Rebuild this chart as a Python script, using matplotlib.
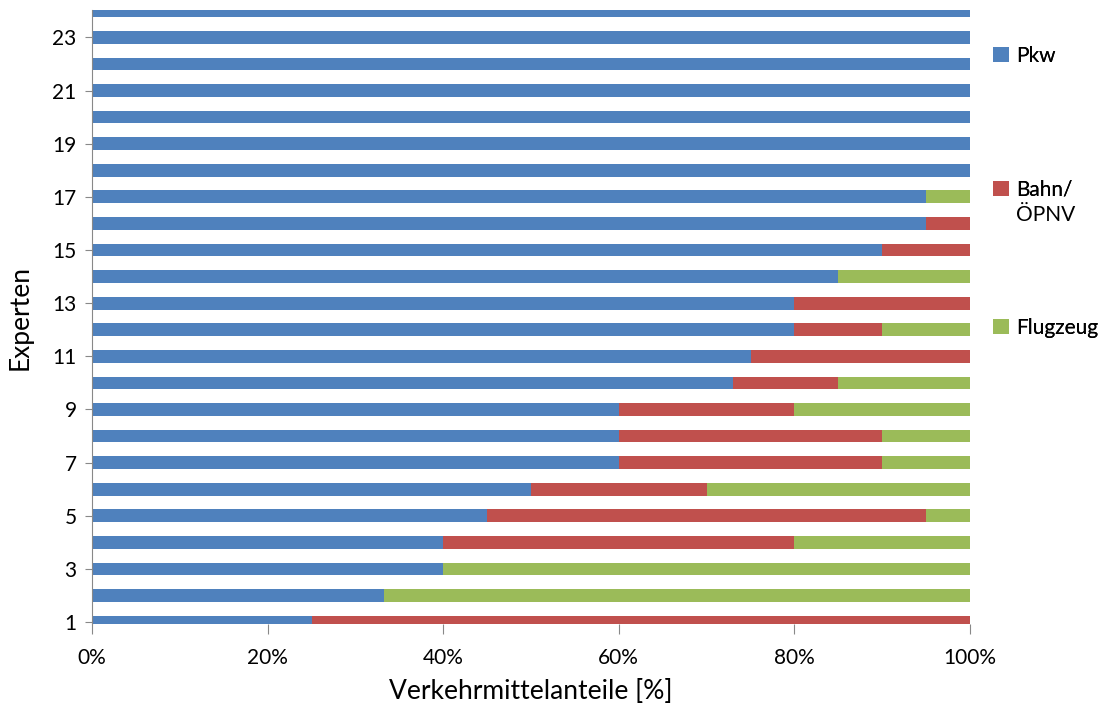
import matplotlib
matplotlib.use("Agg")
import matplotlib.pyplot as plt
from matplotlib.patches import Patch
from matplotlib.ticker import PercentFormatter

plt.rcParams['font.family'] = ['Lato', 'DejaVu Sans']

experts = list(range(1, 25))
pkw  = [25, 33.3, 40, 40, 45, 50, 60, 60, 60, 73, 75, 80, 80, 85, 90, 95, 95, 100, 100, 100, 100, 100, 100, 100]
bahn = [75, 0, 0, 40, 50, 20, 30, 30, 20, 12, 25, 10, 20, 0, 10, 5, 0, 0, 0, 0, 0, 0, 0, 0]
flug = [0, 66.7, 60, 20, 5, 30, 10, 10, 20, 15, 0, 10, 0, 15, 0, 0, 5, 0, 0, 0, 0, 0, 0, 0]
series_names = ["Pkw", "Bahn/", "Flugzeug"]
bahn_second_line = "ÖPNV"
colors = ["#4F81BD", "#C0504D", "#9BBB59"]
yticks = list(range(1, 24, 2))
xticks = [0, 20, 40, 60, 80, 100]

W, H = 1102, 709
fig = plt.figure(figsize=(W / 100, H / 100), dpi=100)
ax = fig.add_axes([92 / W, 1 - 624 / H, (970 - 92) / W, (624 - 10) / H])

h = 0.48
left = [0] * len(experts)
for vals, col in zip([pkw, bahn, flug], colors):
    ax.barh(experts, vals, left=left, height=h, color=col, edgecolor='none', zorder=2)
    left = [a + b for a, b in zip(left, vals)]

ax.set_xlim(0, 100)
ax.set_ylim(0.93, 24.03)
ax.set_yticks(yticks)
ax.set_yticklabels([str(t) for t in yticks], fontsize=15)
ax.set_xticks(xticks)
ax.xaxis.set_major_formatter(PercentFormatter(decimals=0))
ax.tick_params(axis='x', labelsize=15, length=7, color='#888888', pad=10)
ax.tick_params(axis='y', length=5, color='#888888', pad=6)
for s in ['top', 'right', 'bottom']:
    ax.spines[s].set_visible(False)
ax.spines['left'].set_color('#888888')
ax.set_xlabel("Verkehrmittelanteile [%]", fontsize=19, labelpad=8)
ax.set_ylabel("Experten", fontsize=19, labelpad=14)

ys = [1 - 56 / H, 1 - 190 / H, 1 - 328 / H]
legends = []
for name, col, y in zip(series_names, colors, ys):
    lg = fig.legend(handles=[Patch(facecolor=col, edgecolor='none')], labels=[name],
                    loc='center left', bbox_to_anchor=(993 / W, y), frameon=False,
                    borderpad=0, borderaxespad=0,
                    fontsize=15, handlelength=0.75, handleheight=0.75, handletextpad=0.35)
    fig.add_artist(lg)
    legends.append(lg)

fig.canvas.draw()
bb = legends[1].get_texts()[0].get_window_extent()
fig.text(bb.x0 / W, 1 - 215 / H, bahn_second_line, fontsize=15, va='center', ha='left')

fig.savefig("out.png", dpi=100)
